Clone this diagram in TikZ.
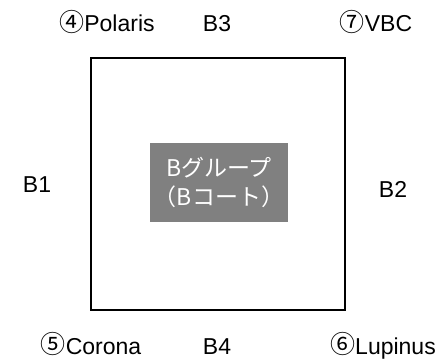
\documentclass[tikz,border=0pt]{standalone}
\usepackage{fontspec}
\setmainfont{Liberation Sans}
\newfontfamily\jpfont{Noto Sans CJK JP}
\newcommand{\circnum}[1]{{\jpfont\fontsize{25}{25}\selectfont\raisebox{0.5pt}{#1}}}
\begin{document}
\begin{tikzpicture}[x=1pt,y=-1pt,
  lbl/.style={font=\fontsize{23}{24}\selectfont, inner sep=0pt, anchor=base},
  court/.style={draw=black, line width=2pt},
  centerbox/.style={fill=black!50, minimum width=138pt, minimum height=79pt, inner sep=0pt, align=center, text=white, font=\jpfont\fontsize{23}{29}\selectfont}]
\useasboundingbox (0,0) rectangle (445,360);
\coordinate (tl) at (91,58);
\coordinate (br) at (345,310);
\draw[court] (tl) rectangle (br);
\node[centerbox] (c) at (219,182.5) {Bグループ\\（Bコート）};
\node[lbl] (p4) at (107,31.5) {\circnum{④}Polaris};
\node[lbl] (b3) at (217,31.5) {B3};
\node[lbl] (p7) at (376,31.5) {\circnum{⑦}VBC};
\node[lbl] (b1) at (37,192) {B1};
\node[lbl] (b2) at (393,197) {B2};
\node[lbl] (p5) at (91,354) {\circnum{⑤}Corona};
\node[lbl] (b4) at (217,354) {B4};
\node[lbl] (p6) at (383,354) {\circnum{⑥}Lupinus};
\end{tikzpicture}
\end{document}
